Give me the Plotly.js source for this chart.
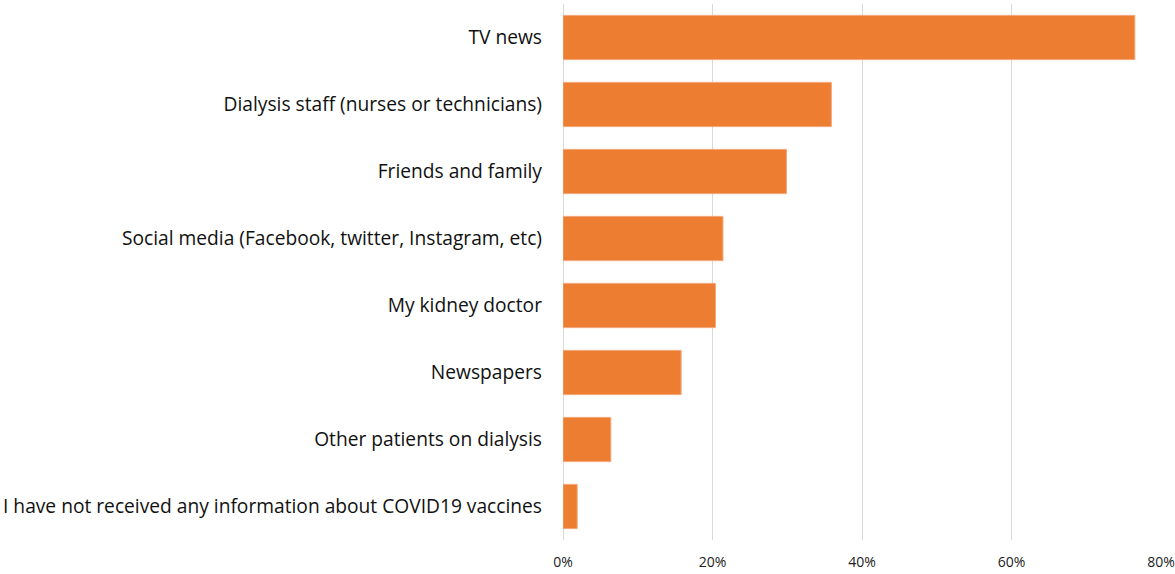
<!DOCTYPE html>
<html>
<head>
<meta charset="utf-8">
<script src="https://cdn.plot.ly/plotly-3.0.1.min.js"></script>
<style>html,body{margin:0;padding:0;background:#fff;}#chart{width:1175px;height:574px;}</style>
</head>
<body>
<div id="chart"></div>
<script>
var categories = [
  "TV news",
  "Dialysis staff (nurses or technicians)",
  "Friends and family",
  "Social media (Facebook, twitter, Instagram, etc)",
  "My kidney doctor",
  "Newspapers",
  "Other patients on dialysis",
  "I have not received any information about COVID19 vaccines"
];
var values = [0.765, 0.359, 0.299, 0.214, 0.204, 0.158, 0.064, 0.019];
var tickVals = [0, 0.2, 0.4, 0.6, 0.8];
var tickText = ["0%", "20%", "40%", "60%", "80%"];

var trace = {
  type: 'bar',
  orientation: 'h',
  x: values,
  y: categories,
  marker: {color: '#ED7D31', line: {color: '#F4A77A', width: 1}},
  hoverinfo: 'x+y'
};
var layout = {
  width: 1175, height: 574,
  margin: {l: 563, r: 14, t: 4, b: 34},
  paper_bgcolor: '#fff', plot_bgcolor: '#fff',
  bargap: 0.34,
  showlegend: false,
  font: {family: '"Open Sans", Lato, sans-serif', color: '#222'},
  xaxis: {
    range: [0, 0.8],
    tickvals: tickVals, ticktext: tickText,
    showgrid: true, gridcolor: '#d9d9d9', gridwidth: 1,
    zeroline: true, zerolinecolor: '#d9d9d9', zerolinewidth: 1,
    showline: false, ticks: '',
    ticklabelstandoff: 12,
    tickfont: {size: 14, color: '#222'},
    fixedrange: true
  },
  yaxis: {
    autorange: 'reversed',
    showgrid: false, zeroline: false, showline: false, ticks: '',
    ticklen: 0, ticklabelstandoff: 20,
    tickfont: {size: 19.2, color: '#111'},
    fixedrange: true
  }
};
Plotly.newPlot('chart', [trace], layout, {displayModeBar: false, staticPlot: true});
</script>
</body>
</html>
